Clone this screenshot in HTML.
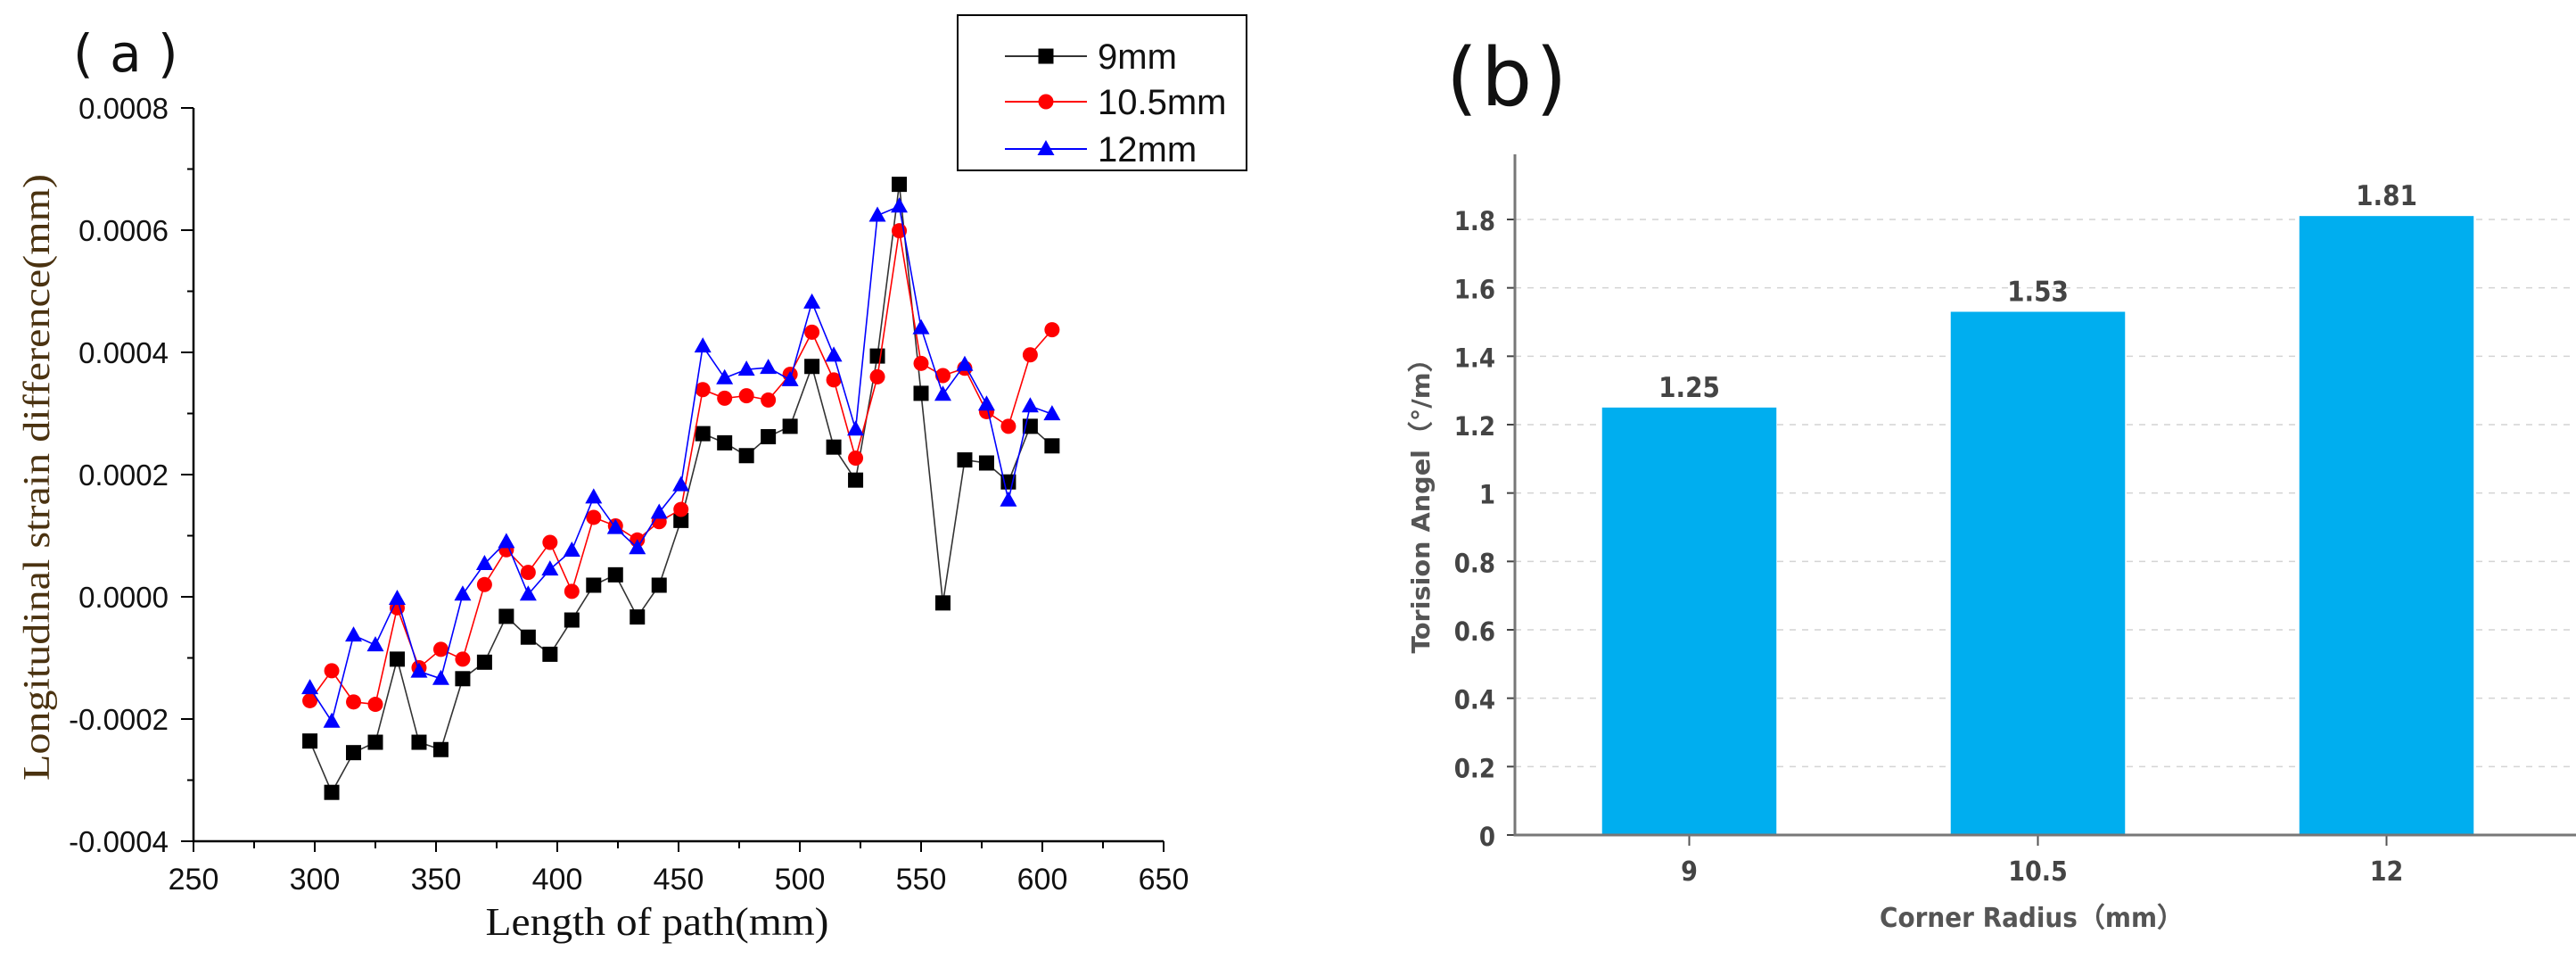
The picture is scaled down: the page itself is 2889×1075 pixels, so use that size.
<!DOCTYPE html>
<html><head><meta charset="utf-8"><style>
html,body{margin:0;padding:0;background:#fff;overflow:hidden;}
svg{display:block;}
</style></head><body>
<svg id="fig" width="2889" height="1075" viewBox="0 0 2889 1075" xmlns="http://www.w3.org/2000/svg">
<g id="pa"></g>
<g id="pb"></g>
</svg>
<script>
// Panel (a) data
const xVals = [298,307,316,325,334,343,352,361,370,379,388,397,406,415,424,433,442,451,460,469,478,487,496,505,514,523,532,541,550,559,568,577,586,595,604];
const s9 = [-2.36,-3.20,-2.55,-2.38,-1.02,-2.38,-2.50,-1.34,-1.07,-0.32,-0.66,-0.94,-0.38,0.19,0.36,-0.33,0.19,1.25,2.67,2.52,2.31,2.62,2.79,3.77,2.45,1.91,3.94,6.75,3.33,-0.10,2.24,2.19,1.88,2.79,2.47];
const s105 = [-1.70,-1.21,-1.72,-1.76,-0.18,-1.16,-0.86,-1.02,0.20,0.77,0.40,0.89,0.09,1.30,1.16,0.93,1.23,1.43,3.39,3.25,3.29,3.22,3.64,4.33,3.55,2.27,3.60,5.99,3.82,3.62,3.74,3.03,2.79,3.96,4.37];
const s12 = [-1.49,-2.04,-0.63,-0.79,-0.03,-1.22,-1.34,0.04,0.54,0.90,0.04,0.45,0.76,1.63,1.13,0.80,1.38,1.83,4.10,3.58,3.72,3.75,3.55,4.82,3.95,2.74,6.24,6.39,4.40,3.31,3.80,3.15,1.58,3.12,2.99];
const xTicksA = [250,300,350,400,450,500,550,600,650];
const yTicksA = [-4,-2,0,2,4,6,8];
const yTickLabelsA = ["-0.0004","-0.0002","0.0000","0.0002","0.0004","0.0006","0.0008"];
const seriesNames = ["9mm","10.5mm","12mm"];
// Panel (b) data
const cats = ["9","10.5","12"];
const barVals = [1.25,1.53,1.81];
const yTicksB = [0,0.2,0.4,0.6,0.8,1,1.2,1.4,1.6,1.8];
const yTickLabelsB = ["0","0.2","0.4","0.6","0.8","1","1.2","1.4","1.6","1.8"];

const NS="http://www.w3.org/2000/svg";
function mk(parent,tag,attrs,text){const e=document.createElementNS(NS,tag);for(const k in attrs)e.setAttribute(k,attrs[k]);if(text!==undefined)e.textContent=text;parent.appendChild(e);return e;}

// ---------- Panel A ----------
const pa=document.getElementById('pa');
const ax0=217, ax1=1305, ay0=943, ay1=121;
const xA=v=>ax0+(v-250)/400*(ax1-ax0);
const yA=v=>ay0-(v+4)/12*(ay0-ay1);
let t=mk(pa,'text',{x:82,y:80,'font-family':'"DejaVu Sans","Liberation Sans",sans-serif','font-size':58,fill:'#111'},'( a )');


let axl=mk(pa,'path',{d:`M${ax0},${ay1} L${ax0},${ay0} L${ax1},${ay0}`,stroke:'#000','stroke-width':2.5,fill:'none'});


for(let v=-4;v<=8;v++){const y=yA(v);const maj=(v%2===0);
  mk(pa,'line',{x1:ax0-(maj?14:7),x2:ax0,y1:y,y2:y,stroke:'#000','stroke-width':2});}
yTicksA.forEach((v,i)=>{const e=mk(pa,'text',{x:189,y:yA(v)+12,'text-anchor':'end','font-family':'"Liberation Sans",sans-serif','font-size':33,fill:'#111'},yTickLabelsA[i]);
  
  });
for(let v=250;v<=650;v+=25){const x=xA(v);const maj=(v%50===0);
  mk(pa,'line',{x1:x,x2:x,y1:ay0,y2:ay0+(maj?12:8),stroke:'#000','stroke-width':2});}
xTicksA.forEach(v=>{const e=mk(pa,'text',{x:xA(v),y:997,'text-anchor':'middle','font-family':'"Liberation Sans",sans-serif','font-size':34,fill:'#111'},String(v));
  
  });
t=mk(pa,'text',{x:737,y:1048,'text-anchor':'middle','font-family':'"Liberation Serif",serif','font-size':44,fill:'#111',textLength:385,lengthAdjust:'spacingAndGlyphs'},'Length of path(mm)');


t=mk(pa,'text',{x:0,y:0,'text-anchor':'middle','font-family':'"Liberation Serif",serif','font-size':42,fill:'#4a3210',textLength:680,lengthAdjust:'spacingAndGlyphs',transform:'translate(55,535) rotate(-90)'},'Longitudinal strain difference(mm)');



const lineCols=['#333','#f00','#00f'];
function marker(g,k,x,y){
  if(k===0)return mk(g,'rect',{x:x-8.5,y:y-8.5,width:17,height:17,fill:'#000'});
  if(k===1)return mk(g,'circle',{cx:x,cy:y,r:8.5,fill:'#f00'});
  return mk(g,'path',{d:`M${x},${y-10} L${x+9.5},${y+7} L${x-9.5},${y+7} Z`,fill:'#00f'});
}
[s9,s105,s12].forEach((s,k)=>{
  const g=mk(pa,'g',{});
  
  
  const pts=s.map((v,i)=>xA(xVals[i])+','+yA(v)).join(' ');
  mk(g,'polyline',{points:pts,fill:'none',stroke:lineCols[k],'stroke-width':1.6});
  s.forEach((v,i)=>{const m=marker(g,k,xA(xVals[i]),yA(v));
    
    });
});
// legend
const lg=mk(pa,'g',{});


mk(lg,'rect',{x:1074,y:17,width:324,height:174,fill:'#fff',stroke:'#000','stroke-width':2});
seriesNames.forEach((n,k)=>{const y=[63,114,167][k];
  const ge=mk(lg,'g',{});
  
  
  mk(ge,'line',{x1:1127,x2:1219,y1:y,y2:y,stroke:lineCols[k],'stroke-width':2});
  marker(ge,k,1173,y);
  mk(ge,'text',{x:1231,y:y+14,'font-family':'"Liberation Sans",sans-serif','font-size':40,fill:'#111'},n);
});

// ---------- Panel B ----------
const pb=document.getElementById('pb');
const bx0=1699, bx1=2872, by0=936, byTop=173;
const yB=v=>by0-v/1.8*(by0-246);
const band=(bx1-bx0)/cats.length;
t=mk(pb,'text',{x:1622,y:118,'font-family':'"DejaVu Sans","Liberation Sans",sans-serif','font-size':90,fill:'#111','letter-spacing':4},'(b)');


yTicksB.forEach((v,i)=>{const y=yB(v);
  if(v>0){const gl=mk(pb,'line',{x1:bx0,x2:2889,y1:y,y2:y,stroke:'#d4d4d4','stroke-width':1.5,'stroke-dasharray':'7,7'});
    
    }
  mk(pb,'line',{x1:bx0-9,x2:bx0,y1:y,y2:y,stroke:'#444','stroke-width':2});
  const e=mk(pb,'text',{x:1677,y:y+12,'text-anchor':'end','font-family':'"DejaVu Sans Condensed","DejaVu Sans",sans-serif','font-weight':'bold','font-size':29,fill:'#444'},yTickLabelsB[i]);
  
  });
cats.forEach((c,i)=>{const cx=bx0+band*(i+0.5);const w=band*0.5;const y=yB(barVals[i]);
  const r=mk(pb,'rect',{x:cx-w/2,y:y,width:w,height:by0-y,fill:'#00aeef'});
  
  
  const lb=mk(pb,'text',{x:cx,y:y-12,'text-anchor':'middle','font-family':'"DejaVu Sans Condensed","DejaVu Sans",sans-serif','font-weight':'bold','font-size':31,fill:'#444'},barVals[i].toFixed(2));
  
  
  mk(pb,'line',{x1:cx,x2:cx,y1:by0,y2:by0+12,stroke:'#555','stroke-width':2});
  const tl=mk(pb,'text',{x:cx,y:by0+51,'text-anchor':'middle','font-family':'"DejaVu Sans Condensed","DejaVu Sans",sans-serif','font-weight':'bold','font-size':30,fill:'#444'},c);
  
  });
axl=mk(pb,'path',{d:`M${bx0},${byTop} L${bx0},${by0} L2889,${by0}`,stroke:'#777','stroke-width':3,fill:'none'});


t=mk(pb,'text',{x:2279,y:1039,'text-anchor':'middle','font-family':'"DejaVu Sans Condensed","DejaVu Sans",sans-serif','font-weight':'bold','font-size':30,fill:'#555',textLength:342,lengthAdjust:'spacingAndGlyphs'},'Corner Radius（mm）');


t=mk(pb,'text',{x:0,y:0,'text-anchor':'middle','font-family':'"DejaVu Sans Condensed","DejaVu Sans",sans-serif','font-weight':'bold','font-size':28,fill:'#555',textLength:347,lengthAdjust:'spacingAndGlyphs',transform:'translate(1603,559) rotate(-90)'},'Torision Angel（°/m）');


</script>
</body></html>
